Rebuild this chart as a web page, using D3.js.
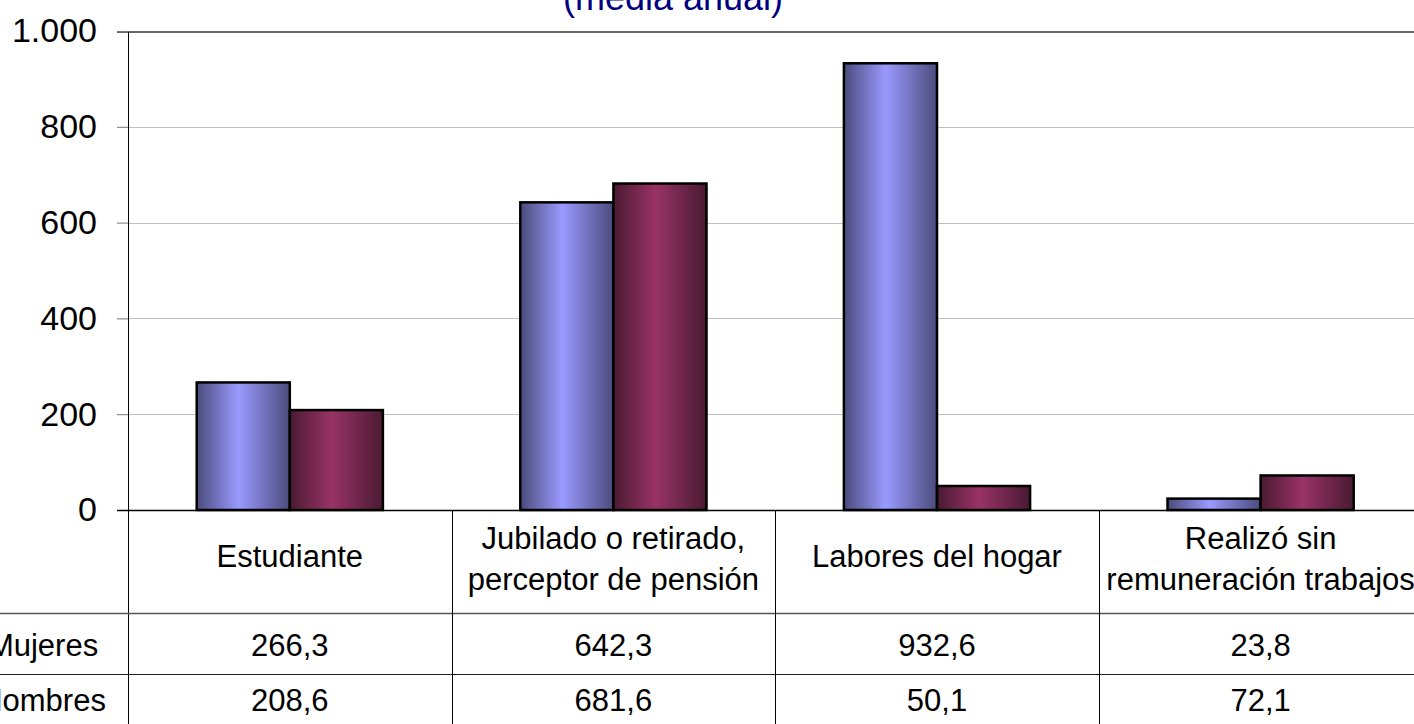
<!DOCTYPE html>
<html>
<head>
<meta charset="utf-8">
<script src="https://cdn.jsdelivr.net/npm/d3@7"></script>
<style>
  html, body { margin: 0; padding: 0; background: #fff; overflow: hidden; }
  svg { display: block; font-family: "Liberation Sans", Arial, sans-serif; }
</style>
</head>
<body>
<script>
// data
const categoryLines = [
  ["Estudiante"],
  ["Jubilado o retirado,", "perceptor de pensión"],
  ["Labores del hogar"],
  ["Realizó sin", "remuneración trabajos"],
];
const seriesNames = ["Mujeres", "Hombres"];
const mujeres = [266.3, 642.3, 932.6, 23.8];
const hombres = [208.6, 681.6, 50.1, 72.1];
const yTicks = [0, 200, 400, 600, 800, 1000];
const chartTitle = "(media anual)";

const width = 1414;
const height = 724;
const plotLeft = 128;
const plotTop = 31;
const plotBottom = 510;
const colW = 323.6;

const es = d3.formatLocale({ decimal: ",", thousands: ".", grouping: [3], currency: ["", " €"] });
const fmtAxis = es.format(",.0f");
const fmtVal = es.format(",.1f");

const svg = d3.select("body").append("svg")
  .attr("width", width)
  .attr("height", height);

const defs = svg.append("defs");
const grads = [
  { id: "gBlue", dark: "#4b4b7c", light: "#9a9aff" },
  { id: "gRed", dark: "#4a1a32", light: "#993366" },
];
grads.forEach((g) => {
  const lg = defs.append("linearGradient").attr("id", g.id)
    .attr("x1", "0%").attr("x2", "100%").attr("y1", "0%").attr("y2", "0%");
  lg.append("stop").attr("offset", "0%").attr("stop-color", g.dark);
  lg.append("stop").attr("offset", "45%").attr("stop-color", g.light);
  lg.append("stop").attr("offset", "100%").attr("stop-color", g.dark);
});

const idx = d3.range(categoryLines.length);

const x0 = d3.scaleBand()
  .domain(idx)
  .range([plotLeft, plotLeft + colW * categoryLines.length])
  .padding(0);

const x1 = d3.scaleBand()
  .domain(seriesNames)
  .range([0, x0.bandwidth()])
  .paddingInner(0)
  .paddingOuter(0.738);

const y = d3.scaleLinear().domain([0, 1000]).range([plotBottom, plotTop]);

// title (mostly cut off at the top)
svg.append("text")
  .attr("x", 673)
  .attr("y", 10)
  .attr("text-anchor", "middle")
  .attr("font-size", 36)
  .attr("fill", "#000080")
  .text(chartTitle);

// gridlines
svg.append("g")
  .selectAll("line")
  .data(yTicks.filter((d) => d > 0 && d < 1000))
  .enter()
  .append("line")
  .attr("x1", plotLeft)
  .attr("x2", width)
  .attr("y1", (d) => Math.round(y(d)) + 0.5)
  .attr("y2", (d) => Math.round(y(d)) + 0.5)
  .attr("stroke", "#c0c0c0")
  .attr("stroke-width", 1);

// top border of plot area
svg.append("line")
  .attr("x1", 117).attr("x2", width)
  .attr("y1", y(1000) + 1).attr("y2", y(1000) + 1)
  .attr("stroke", "#666").attr("stroke-width", 2);

// y axis
const yAxis = d3.axisLeft(y)
  .tickValues(yTicks)
  .tickFormat(fmtAxis)
  .tickSize(11)
  .tickPadding(20);

const gy = svg.append("g")
  .attr("transform", `translate(${plotLeft}, 0)`)
  .call(yAxis);
gy.select(".domain").remove();
gy.selectAll(".tick line").attr("stroke", "#777");
gy.selectAll(".tick text")
  .attr("font-size", 34)
  .attr("fill", "#000")
  .attr("font-family", "Liberation Sans, Arial, sans-serif");

// bars
const series = [
  { name: seriesNames[0], values: mujeres, fill: "url(#gBlue)" },
  { name: seriesNames[1], values: hombres, fill: "url(#gRed)" },
];

const groups = svg.append("g")
  .selectAll("g")
  .data(series)
  .enter()
  .append("g");

groups.selectAll("rect")
  .data((s) => s.values.map((v, i) => ({ v, i, s })))
  .enter()
  .append("rect")
  .attr("x", (d) => x0(d.i) + x1(d.s.name))
  .attr("y", (d) => y(d.v))
  .attr("width", x1.bandwidth())
  .attr("height", (d) => plotBottom - y(d.v))
  .attr("fill", (d) => d.s.fill)
  .attr("stroke", "#000")
  .attr("stroke-width", 2.5);

// zero line
svg.append("line")
  .attr("x1", 117).attr("x2", width)
  .attr("y1", plotBottom + 0.5).attr("y2", plotBottom + 0.5)
  .attr("stroke", "#000").attr("stroke-width", 1.5);

// left axis line (runs down through the table)
svg.append("line")
  .attr("x1", plotLeft + 0.5).attr("x2", plotLeft + 0.5)
  .attr("y1", plotTop + 1).attr("y2", height)
  .attr("stroke", "#000").attr("stroke-width", 1);

// data table
const row1 = 613;
const row2 = 674;

svg.append("line")
  .attr("x1", 0).attr("x2", width)
  .attr("y1", row1 + 0.5).attr("y2", row1 + 0.5)
  .attr("stroke", "#555").attr("stroke-width", 1.5);
svg.append("line")
  .attr("x1", 0).attr("x2", width)
  .attr("y1", row2 + 0.5).attr("y2", row2 + 0.5)
  .attr("stroke", "#222").attr("stroke-width", 1);

svg.append("g")
  .selectAll("line")
  .data(idx.slice(1))
  .enter()
  .append("line")
  .attr("x1", (i) => Math.round(x0(i)) + 0.5)
  .attr("x2", (i) => Math.round(x0(i)) + 0.5)
  .attr("y1", plotBottom)
  .attr("y2", height)
  .attr("stroke", "#000");

const tableFont = 31;

// category labels
const catG = svg.append("g")
  .selectAll("text")
  .data(idx)
  .enter()
  .append("text")
  .attr("text-anchor", "middle")
  .attr("font-size", tableFont)
  .attr("fill", "#000");

catG.each(function (i) {
  const lines = categoryLines[i];
  const cx = x0(i) + x0.bandwidth() / 2;
  const base = lines.length === 1 ? 567 : 549;
  d3.select(this).selectAll("tspan")
    .data(lines)
    .enter()
    .append("tspan")
    .attr("x", cx)
    .attr("y", (d, k) => base + k * 41)
    .text((d) => d);
});

// series names + values
const rowBase = [656, 711];
series.forEach((s, r) => {
  svg.append("text")
    .attr("x", 43)
    .attr("y", rowBase[r])
    .attr("text-anchor", "middle")
    .attr("font-size", tableFont)
    .text(s.name);

  svg.append("g")
    .selectAll("text")
    .data(s.values)
    .enter()
    .append("text")
    .attr("x", (d, i) => x0(i) + x0.bandwidth() / 2)
    .attr("y", rowBase[r])
    .attr("text-anchor", "middle")
    .attr("font-size", tableFont)
    .text((d) => fmtVal(d));
});
</script>
</body>
</html>
